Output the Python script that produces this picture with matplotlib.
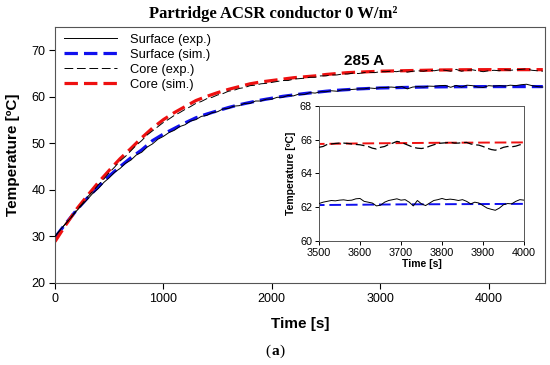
import matplotlib
matplotlib.use("Agg")
import matplotlib.pyplot as plt
import numpy as np

plt.rcParams['font.family'] = ['Liberation Sans', 'DejaVu Sans']

# ---------------- data ----------------
t_sim = list(range(0, 4501, 100))
core_sim = [28.9, 32.5, 35.9, 38.8, 41.6, 44.2, 46.7, 48.9, 51.2, 53.3,
            55.1, 56.6, 57.9, 59.2, 60.1, 60.9, 61.6, 62.2, 62.8, 63.2,
            63.5, 63.8, 64.1, 64.3, 64.5, 64.8, 65.0, 65.2, 65.3, 65.4,
            65.5, 65.55, 65.6, 65.65, 65.7, 65.75, 65.78, 65.8, 65.82, 65.83,
            65.84, 65.84, 65.84, 65.84, 65.84, 65.84]
surf_sim = [29.8, 32.8, 35.7, 38.3, 40.7, 43.0, 45.0, 46.9, 48.6, 50.6,
            52.0, 53.2, 54.4, 55.5, 56.3, 57.0, 57.7, 58.3, 58.8, 59.3,
            59.7, 60.1, 60.4, 60.7, 60.95, 61.2, 61.4, 61.55, 61.7, 61.8,
            61.9, 61.95, 62.0, 62.05, 62.1, 62.13, 62.15, 62.17, 62.18, 62.19,
            62.2, 62.2, 62.2, 62.2, 62.2, 62.2]

t_exp = list(range(0, 4501, 50))
surf_exp = [30.0, 31.5, 32.8, 34.1, 35.5, 36.8, 38.0, 39.3, 40.3, 41.6,
            42.6, 43.8, 44.6, 45.7, 46.4, 47.5, 48.1, 49.2, 49.9, 50.9,
            51.5, 52.3, 52.8, 53.6, 54.0, 54.8, 55.1, 55.8, 56.0, 56.6,
            56.8, 57.4, 57.5, 58.0, 58.1, 58.6, 58.6, 59.1, 59.1, 59.5,
            59.5, 59.9, 59.9, 60.3, 60.2, 60.6, 60.5, 60.9, 60.8, 61.1,
            61.1, 61.3, 61.2, 61.5, 61.5, 61.6, 61.7, 61.7, 61.9, 61.8,
            62.0, 62.0, 62.1, 62.0, 62.2, 61.7, 62.1, 62.2, 62.1, 62.3,
            62.25, 62.4, 62.45, 62.05, 62.45, 62.1, 62.5, 62.4, 62.1, 62.0,
            62.4, 62.3, 62.4, 62.3, 62.5, 62.4, 62.6, 62.7, 62.4, 62.2,
            62.1]
core_exp = [30.0, 31.4, 32.8, 34.2, 35.7, 37.0, 38.5, 39.7, 41.1, 42.3,
            43.7, 44.9, 46.2, 47.2, 48.4, 49.6, 50.6, 51.8, 52.7, 53.6,
            54.5, 55.2, 56.0, 56.6, 57.3, 57.9, 58.6, 59.0, 59.6, 59.9,
            60.4, 60.7, 61.2, 61.4, 61.8, 62.0, 62.4, 62.5, 62.8, 62.9,
            63.1, 63.3, 63.5, 63.5, 63.8, 63.9, 64.0, 64.2, 64.2, 64.5,
            64.5, 64.7, 64.7, 64.9, 64.9, 65.1, 65.0, 65.2, 65.3, 65.2,
            65.4, 65.4, 65.5, 65.4, 65.6, 65.3, 65.5, 65.6, 65.5, 65.7,
            65.6, 65.8, 65.7, 65.5, 65.9, 65.5, 65.7, 65.8, 65.6, 65.4,
            65.6, 65.7, 65.6, 65.8, 65.7, 65.8, 65.9, 66.0, 65.7, 65.6,
            65.5]

# inset (zoomed) experimental data, 10 s steps
t_zoom = list(range(3500, 4001, 10))
surf_exp_zoom = [62.22, 62.3, 62.35, 62.4, 62.38, 62.42, 62.44, 62.4, 62.42, 62.5,
                 62.52, 62.35, 62.3, 62.25, 62.08, 62.12, 62.3, 62.4, 62.45, 62.5,
                 62.42, 62.45, 62.3, 62.08, 62.4, 62.2, 62.1, 62.25, 62.4, 62.45,
                 62.52, 62.45, 62.48, 62.45, 62.4, 62.45, 62.35, 62.2, 62.3, 62.25,
                 62.1, 61.95, 61.88, 61.82, 61.95, 62.15, 62.22, 62.2, 62.35, 62.45,
                 62.42]
core_exp_zoom = [65.55, 65.6, 65.72, 65.75, 65.78, 65.8, 65.8, 65.78, 65.75, 65.72,
                 65.7, 65.65, 65.6, 65.5, 65.45, 65.55, 65.6, 65.72, 65.8, 65.9,
                 65.85, 65.75, 65.65, 65.55, 65.5, 65.48, 65.52, 65.62, 65.7, 65.78,
                 65.8, 65.82, 65.85, 65.8, 65.8, 65.83, 65.84, 65.75, 65.7, 65.68,
                 65.6, 65.5, 65.42, 65.38, 65.45, 65.55, 65.6, 65.58, 65.62, 65.7,
                 65.72]

labels = ["Surface (exp.)", "Surface (sim.)", "Core (exp.)", "Core (sim.)"]
x_ticks = [0, 1000, 2000, 3000, 4000]
y_ticks = [20, 30, 40, 50, 60, 70]
x_ticks_zoom = [3500, 3600, 3700, 3800, 3900, 4000]
y_ticks_zoom = [60, 62, 64, 66, 68]

# ---------------- figure ----------------
fig = plt.figure(figsize=(5.5, 3.65), dpi=100)
ax = fig.add_axes([0.1, 0.2247, 0.8909, 0.7013])

spine_c = '#555555'
ax.plot(t_exp, surf_exp, color='black', lw=0.7, label=labels[0], zorder=3)
ax.plot(t_sim, surf_sim, color='#1010ee', lw=2.3, dashes=(4.2, 1.9), label=labels[1], zorder=2)
ax.plot(t_exp, core_exp, color='black', lw=0.7, dashes=(9, 3.8), label=labels[2], zorder=3)
ax.plot(t_sim, core_sim, color='#ee1010', lw=2.3, dashes=(4.2, 1.9), label=labels[3], zorder=2)

ax.set_xlim(0, 4520)
ax.set_ylim(20, 75)
ax.set_xticks(x_ticks)
ax.set_yticks(y_ticks)
ax.tick_params(direction='out', length=4, width=0.8, labelsize=9, colors='black', pad=3)
for s in ax.spines.values():
    s.set_color(spine_c)
    s.set_linewidth(0.8)
ax.set_xlabel("Time [s]", fontsize=11, fontweight='bold', labelpad=9)
ax.set_ylabel("Temperature [ºC]", fontsize=11, fontweight='bold', labelpad=8)

leg = ax.legend(loc='upper left', frameon=False, fontsize=9.3, handlelength=4.1,
                labelspacing=0.24, borderaxespad=0.3, handletextpad=1.0,
                bbox_to_anchor=(0.0, 1.01))

ax.text(2850, 67.7, "285 A", fontsize=11, fontweight='bold', ha='center', va='center')

fig.text(0.497, 0.962, "Partridge ACSR conductor 0 W/m²", ha='center', va='center',
         fontsize=12, fontweight='bold', family=['Liberation Serif', 'DejaVu Serif'])
fig.text(0.4875, 0.037, "(", ha='center', va='center', fontsize=11, family='Liberation Serif')
fig.text(0.5, 0.037, "a", ha='center', va='center', fontsize=11, fontweight='bold',
         family='Liberation Serif')
fig.text(0.5125, 0.037, ")", ha='center', va='center', fontsize=11, family='Liberation Serif')

# ---------------- inset ----------------
ins = fig.add_axes([0.58, 0.3397, 0.3727, 0.37])
ins.set_facecolor('white')
ins.plot(t_zoom, surf_exp_zoom, color='black', lw=0.7, zorder=3)
ins.plot(t_sim, surf_sim, color='#1010ee', lw=1.4, dashes=(6, 2.5), zorder=2)
ins.plot(t_zoom, core_exp_zoom, color='black', lw=0.9, dashes=(7, 3), zorder=3)
ins.plot(t_sim, core_sim, color='#ee1010', lw=1.4, dashes=(6, 2.5), zorder=2)
ins.set_xlim(3500, 4000)
ins.set_ylim(60, 68)
ins.set_xticks(x_ticks_zoom)
ins.set_yticks(y_ticks_zoom)
ins.tick_params(direction='out', length=3, width=0.7, labelsize=7.8, pad=2)
for s in ins.spines.values():
    s.set_color(spine_c)
    s.set_linewidth(0.7)
ins.set_xlabel("Time [s]", fontsize=7.5, fontweight='bold', labelpad=1)
ins.set_ylabel("Temperature [ºC]", fontsize=7.5, fontweight='bold', labelpad=3)

fig.savefig("out.png", dpi=100)
